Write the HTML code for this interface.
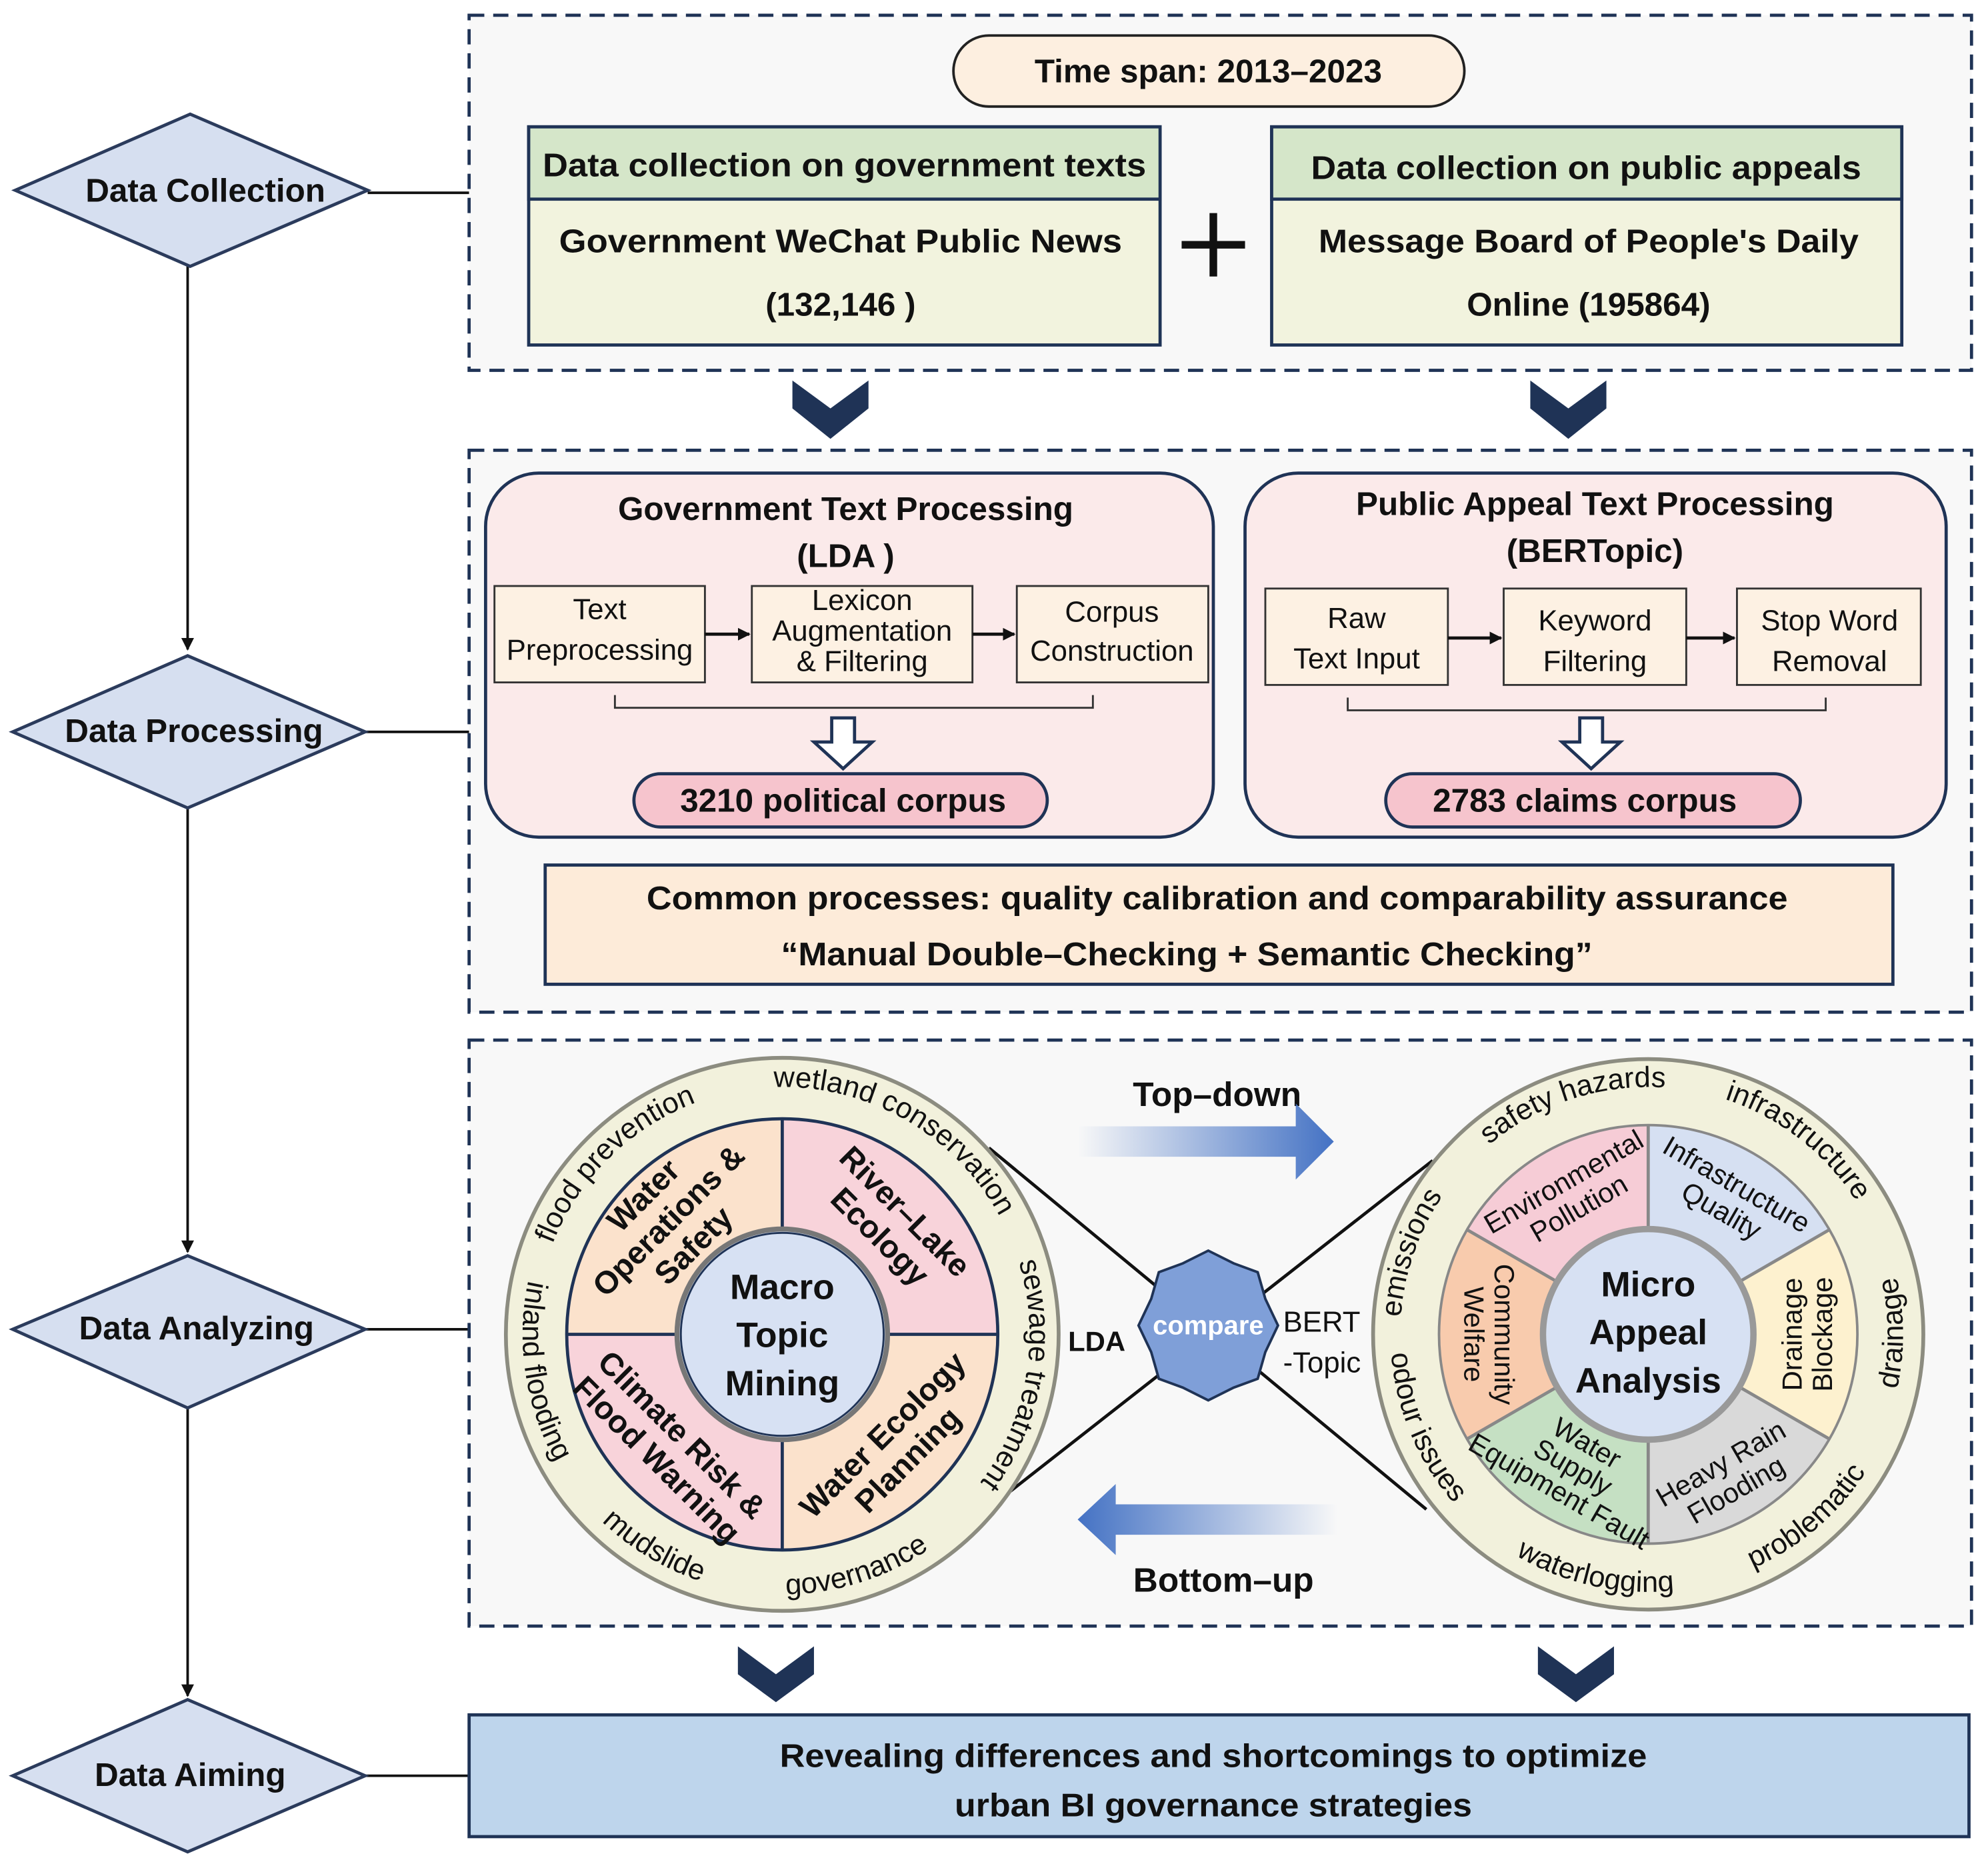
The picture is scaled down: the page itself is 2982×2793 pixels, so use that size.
<!DOCTYPE html>
<html><head><meta charset="utf-8"><style>
html,body{margin:0;padding:0;background:#fff;}
svg{display:block;}
text{font-family:"Liberation Sans",sans-serif;fill:#111;}
.b{font-weight:bold;}
</style></head><body>
<svg width="2982" height="2793" viewBox="0 0 1568 1468" preserveAspectRatio="none" xmlns="http://www.w3.org/2000/svg">
<defs>
<linearGradient id="gr" x1="0" x2="1"><stop offset="0" stop-color="#4472c4" stop-opacity="0"/><stop offset="1" stop-color="#4472c4"/></linearGradient>
<linearGradient id="gl" x1="1" x2="0"><stop offset="0" stop-color="#4472c4" stop-opacity="0"/><stop offset="1" stop-color="#4472c4"/></linearGradient>
<marker id="ah" markerWidth="10" markerHeight="10" refX="9" refY="5" orient="auto" markerUnits="userSpaceOnUse"><path d="M0,0 L10,5 L0,10 z" fill="#111"/></marker>
</defs>
<rect width="1568" height="1468" fill="#fff"/>

<g stroke="#111" stroke-width="2" fill="none">
<line x1="148" y1="210" x2="148" y2="512" marker-end="url(#ah)"/>
<line x1="148" y1="637" x2="148" y2="987" marker-end="url(#ah)"/>
<line x1="148" y1="1110" x2="148" y2="1337" marker-end="url(#ah)"/>
<line x1="290" y1="152" x2="370" y2="152"/>
<line x1="288" y1="577" x2="370" y2="577"/>
<line x1="288" y1="1048" x2="370" y2="1048"/>
<line x1="288" y1="1400" x2="370" y2="1400"/>
</g>
<g fill="#d6dff0" stroke="#2b3b5c" stroke-width="2.5">
<polygon points="12,150 150,90 290,150 150,210"/>
<polygon points="10,577 148,517 288,577 148,637"/>
<polygon points="10,1048 148,990 288,1048 148,1110"/>
<polygon points="10,1400 148,1340 288,1400 148,1460"/>
</g>
<g class="b" font-size="26" text-anchor="middle">
<text x="162" y="159" class="b">Data Collection</text>
<text x="153" y="585" class="b">Data Processing</text>
<text x="155" y="1056" class="b">Data Analyzing</text>
<text x="150" y="1408" class="b">Data Aiming</text>
</g>

<g fill="#f8f8f8" stroke="#1f3356" stroke-width="2.5" stroke-dasharray="12,7">
<rect x="370" y="12" width="1185" height="280"/>
<rect x="370" y="355" width="1185" height="443"/>
<rect x="370" y="820" width="1185" height="462"/>
</g>

<rect x="752" y="28" width="403" height="56" rx="28" fill="#fdefe0" stroke="#222" stroke-width="2"/>
<text x="953" y="65" font-size="26" text-anchor="middle" class="b">Time span: 2013–2023</text>
<rect x="417" y="100" width="498" height="172" fill="#f2f3de" stroke="#1f3356" stroke-width="2.5"/>
<rect x="417" y="100" width="498" height="57" fill="#d5e6c9" stroke="#1f3356" stroke-width="2.5"/>
<text x="666" y="139" font-size="26" text-anchor="middle" class="b" textLength="476" lengthAdjust="spacingAndGlyphs">Data collection on government texts</text>
<text x="663" y="199" font-size="26" text-anchor="middle" class="b" textLength="444" lengthAdjust="spacingAndGlyphs">Government WeChat Public News</text>
<text x="663" y="249" font-size="26" text-anchor="middle" class="b">(132,146 )</text>
<rect x="1003" y="100" width="497" height="172" fill="#f2f3de" stroke="#1f3356" stroke-width="2.5"/>
<rect x="1003" y="100" width="497" height="57" fill="#d5e6c9" stroke="#1f3356" stroke-width="2.5"/>
<text x="1251" y="141" font-size="26" text-anchor="middle" class="b" textLength="434" lengthAdjust="spacingAndGlyphs">Data collection on public appeals</text>
<text x="1253" y="199" font-size="26" text-anchor="middle" class="b" textLength="426" lengthAdjust="spacingAndGlyphs">Message Board of People's Daily</text>
<text x="1253" y="249" font-size="26" text-anchor="middle" class="b">Online (195864)</text>
<g stroke="#111" stroke-width="6"><line x1="957" y1="168" x2="957" y2="218"/><line x1="932" y1="193" x2="982" y2="193"/></g>

<g fill="#1f3356">
<polygon points="625,300 655,322 685,300 685,322 655,346 625,322"/>
<polygon points="1207,300 1237,322 1267,300 1267,322 1237,346 1207,322"/>
<polygon points="582,1298 612,1320 642,1298 642,1320 612,1342 582,1320"/>
<polygon points="1213,1298 1243,1320 1273,1298 1273,1320 1243,1342 1213,1320"/>
</g>

<rect x="383" y="373" width="574" height="287" rx="42" fill="#fbeaea" stroke="#1f3356" stroke-width="2.5"/>
<rect x="982" y="373" width="553" height="287" rx="42" fill="#fbeaea" stroke="#1f3356" stroke-width="2.5"/>
<text x="667" y="410" font-size="26" text-anchor="middle" class="b">Government Text Processing</text>
<text x="667" y="447" font-size="26" text-anchor="middle" class="b">(LDA )</text>
<text x="1258" y="406" font-size="26" text-anchor="middle" class="b">Public Appeal Text Processing</text>
<text x="1258" y="443" font-size="26" text-anchor="middle" class="b">(BERTopic)</text>
<g fill="#fdf1e3" stroke="#333" stroke-width="1.5">
<rect x="390" y="462" width="166" height="76"/><rect x="593" y="462" width="174" height="76"/><rect x="802" y="462" width="151" height="76"/>
<rect x="998" y="464" width="144" height="76"/><rect x="1186" y="464" width="144" height="76"/><rect x="1370" y="464" width="145" height="76"/>
</g>
<g font-size="23" text-anchor="middle">
<text x="473" y="488">Text</text><text x="473" y="520">Preprocessing</text>
<text x="680" y="481">Lexicon</text><text x="680" y="505">Augmentation</text><text x="680" y="529">&amp; Filtering</text>
<text x="877" y="490">Corpus</text><text x="877" y="521">Construction</text>
<text x="1070" y="495">Raw</text><text x="1070" y="527">Text Input</text>
<text x="1258" y="497">Keyword</text><text x="1258" y="529">Filtering</text>
<text x="1443" y="497">Stop Word</text><text x="1443" y="529">Removal</text>
</g>
<g stroke="#111" stroke-width="2.5">
<line x1="556" y1="500" x2="591" y2="500" marker-end="url(#ah)"/>
<line x1="767" y1="500" x2="800" y2="500" marker-end="url(#ah)"/>
<line x1="1142" y1="503" x2="1184" y2="503" marker-end="url(#ah)"/>
<line x1="1330" y1="503" x2="1368" y2="503" marker-end="url(#ah)"/>
</g>
<g fill="none" stroke="#333" stroke-width="1.5">
<polyline points="485,548 485,558 862,558 862,548"/>
<polyline points="1063,550 1063,560 1440,560 1440,550"/>
</g>
<g fill="#fff" stroke="#1f3356" stroke-width="2.5">
<polygon points="656,566 674,566 674,585 688,585 665,606 642,585 656,585"/>
<polygon points="1246,566 1264,566 1264,585 1278,585 1255,606 1232,585 1246,585"/>
</g>
<rect x="500" y="610" width="326" height="42" rx="21" fill="#f6c4cd" stroke="#1f3356" stroke-width="2.5"/>
<text x="665" y="640" font-size="26" text-anchor="middle" class="b">3210 political corpus</text>
<rect x="1093" y="610" width="327" height="42" rx="21" fill="#f6c4cd" stroke="#1f3356" stroke-width="2.5"/>
<text x="1250" y="640" font-size="26" text-anchor="middle" class="b">2783 claims corpus</text>
<rect x="430" y="682" width="1063" height="94" fill="#fdebd9" stroke="#1f3356" stroke-width="2.5"/>
<text x="960" y="717" font-size="26" text-anchor="middle" class="b" textLength="900" lengthAdjust="spacingAndGlyphs">Common processes: quality calibration and comparability assurance</text>
<text x="936" y="761" font-size="26" text-anchor="middle" class="b" textLength="640" lengthAdjust="spacingAndGlyphs">“Manual Double–Checking + Semantic Checking”</text>

<g stroke="#111" stroke-width="2.5">
<line x1="780" y1="905" x2="1125" y2="1190"/>
<line x1="785" y1="1185" x2="1130" y2="915"/>
</g>
<text x="960" y="872" font-size="27" text-anchor="middle" class="b">Top–down</text>
<polygon points="850,888 1022,888 1022,870 1052,900 1022,930 1022,912 850,912" fill="url(#gr)"/>
<text x="965" y="1255" font-size="27" text-anchor="middle" class="b">Bottom–up</text>
<polygon points="1055,1186 880,1186 880,1170 850,1198 880,1226 880,1210 1055,1210" fill="url(#gl)"/>

<g transform="translate(617,1052)">
<circle r="218" fill="#f2f1dc" stroke="#8c8c80" stroke-width="3"/>
<path d="M0,-170 A170,170 0 0 1 170,0 L0,0 Z" fill="#f8d3da"/>
<path d="M170,0 A170,170 0 0 1 0,170 L0,0 Z" fill="#fbe2cc"/>
<path d="M0,170 A170,170 0 0 1 -170,0 L0,0 Z" fill="#f8d3da"/>
<path d="M-170,0 A170,170 0 0 1 0,-170 L0,0 Z" fill="#fbe2cc"/>
<circle r="170" fill="none" stroke="#1f3356" stroke-width="2.5"/>
<g stroke="#1f3356" stroke-width="2.5"><line x1="0" y1="-170" x2="0" y2="170"/><line x1="-170" y1="0" x2="170" y2="0"/></g>
<circle r="83" fill="#d7e1f3" stroke="#777" stroke-width="4"/>
<circle r="80" fill="none" stroke="#1f3356" stroke-width="1.5"/>
<g font-size="28" text-anchor="middle" class="b">
<text y="-28" class="b">Macro</text><text y="10" class="b">Topic</text><text y="48" class="b">Mining</text>
</g>
<g font-size="25" text-anchor="middle" class="b">
<g transform="translate(-88,-88) rotate(-45)"><text y="-22" class="b">Water</text><text y="6" class="b">Operations &amp;</text><text y="34" class="b">Safety</text></g>
<g transform="translate(88,-88) rotate(45)"><text y="-4" class="b">River–Lake</text><text y="24" class="b">Ecology</text></g>
<g transform="translate(-88,88) rotate(45)"><text y="-4" class="b">Climate Risk &amp;</text><text y="24" class="b">Flood Warning</text></g>
<g transform="translate(88,88) rotate(-45)"><text y="-4" class="b">Water Ecology</text><text y="24" class="b">Planning</text></g>
</g>
</g>

<g transform="translate(1300,1052)">
<circle r="217" fill="#f2f1dc" stroke="#8c8c80" stroke-width="3"/>
<path d="M0,0 L0,-165 A165,165 0 0 1 142.9,-82.5 Z" fill="#d6e0f2"/>
<path d="M0,0 L142.9,-82.5 A165,165 0 0 1 142.9,82.5 Z" fill="#fdf1cf"/>
<path d="M0,0 L142.9,82.5 A165,165 0 0 1 0,165 Z" fill="#d9d9d9"/>
<path d="M0,0 L0,165 A165,165 0 0 1 -142.9,82.5 Z" fill="#c5e0c3"/>
<path d="M0,0 L-142.9,82.5 A165,165 0 0 1 -142.9,-82.5 Z" fill="#f8cbad"/>
<path d="M0,0 L-142.9,-82.5 A165,165 0 0 1 0,-165 Z" fill="#f6ccd6"/>
<g stroke="#888" stroke-width="2.5">
<line x1="0" y1="-165" x2="0" y2="165"/><line x1="142.9" y1="-82.5" x2="-142.9" y2="82.5"/><line x1="-142.9" y1="-82.5" x2="142.9" y2="82.5"/>
</g>
<circle r="165" fill="none" stroke="#888" stroke-width="2"/>
<circle r="83" fill="#d7e1f3" stroke="#999" stroke-width="5"/>
<g font-size="28" text-anchor="middle" class="b">
<text y="-30" class="b">Micro</text><text y="8" class="b">Appeal</text><text y="46" class="b">Analysis</text>
</g>
<g font-size="22" text-anchor="middle">
<g transform="translate(-62,-112) rotate(-30)"><text y="-2">Environmental</text><text y="22">Pollution</text></g>
<g transform="translate(65,-110) rotate(30)"><text y="-2">Infrastructure</text><text y="22">Quality</text></g>
<g transform="translate(125,0) rotate(-90)"><text y="-4">Drainage</text><text y="20">Blockage</text></g>
<g transform="translate(62,110) rotate(-30)"><text y="-2">Heavy Rain</text><text y="22">Flooding</text></g>
<g transform="translate(-60,106) rotate(30)"><text y="-16">Water</text><text y="6">Supply</text><text y="28">Equipment Fault</text></g>
<g transform="translate(-125,0) rotate(90)"><text y="-4">Community</text><text y="20">Welfare</text></g>
</g>
</g>

<polygon fill="#7f9fd8" stroke="#1f3356" stroke-width="2" points="1008,1045 998,1066 992,1087 973,1094 953,1104 933,1094 914,1087 908,1066 898,1045 908,1024 914,1003 933,996 953,986 973,996 992,1003 998,1024"/>
<text x="953" y="1052" font-size="21" text-anchor="middle" class="b" style="fill:#fff">compare</text>
<text x="865" y="1065" font-size="22" text-anchor="middle" class="b">LDA</text>
<text x="1012" y="1050" font-size="23">BERT</text>
<text x="1012" y="1082" font-size="23">-Topic</text>

<defs>
<path id="l1" d="M435.8,980.8 A195,195 0 0 1 566.5,863.6"/>
<path id="l2" d="M610.2,857.1 A195,195 0 0 1 793.7,969.6"/>
<path id="l3" d="M803.5,995.0 A195,195 0 0 1 766.4,1177.3"/>
<path id="l4" d="M416.7,1009.4 A205,205 0 0 0 460.0,1183.8"/>
<path id="l5" d="M474.6,1199.5 A205,205 0 0 0 563.9,1250.0"/>
<path id="l6" d="M609.8,1256.9 A205,205 0 0 0 748.8,1209.1"/>
<path id="r1" d="M1174.6,902.6 A195,195 0 0 1 1313.6,857.5"/>
<path id="r2" d="M1360.3,866.5 A195,195 0 0 1 1470.8,958.5"/>
<path id="r3" d="M1496.3,1095.4 A201,201 0 0 0 1493.2,996.6"/>
<path id="r4" d="M1382.6,1236.5 A203,203 0 0 0 1482.7,1141.0"/>
<path id="r5" d="M1195.4,1226.1 A203,203 0 0 0 1335.2,1251.9"/>
<path id="r6" d="M1097.2,1067.0 A203,203 0 0 0 1154.0,1193.0"/>
<path id="r7" d="M1104.9,1038.4 A195,195 0 0 1 1139.7,940.2"/>
</defs>
<g font-size="23">
<text><textPath href="#l1">flood prevention</textPath></text>
<text><textPath href="#l2">wetland conservation</textPath></text>
<text><textPath href="#l3">sewage treatment</textPath></text>
<text><textPath href="#l4">inland flooding</textPath></text>
<text><textPath href="#l5">mudslide</textPath></text>
<text><textPath href="#l6" startOffset="10">governance</textPath></text>
<text><textPath href="#r1">safety hazards</textPath></text>
<text><textPath href="#r2">infrastructure</textPath></text>
<text><textPath href="#r3">drainage</textPath></text>
<text><textPath href="#r4">problematic</textPath></text>
<text><textPath href="#r5">waterlogging</textPath></text>
<text><textPath href="#r6">odour issues</textPath></text>
<text><textPath href="#r7">emissions</textPath></text>
</g>

<rect x="370" y="1352" width="1183" height="96" fill="#bed5ec" stroke="#1f3356" stroke-width="2.5"/>
<text x="957" y="1393" font-size="26" text-anchor="middle" class="b" textLength="684" lengthAdjust="spacingAndGlyphs">Revealing differences and shortcomings to optimize</text>
<text x="957" y="1432" font-size="26" text-anchor="middle" class="b" textLength="408" lengthAdjust="spacingAndGlyphs">urban BI governance strategies</text>
</svg>
</body></html>
